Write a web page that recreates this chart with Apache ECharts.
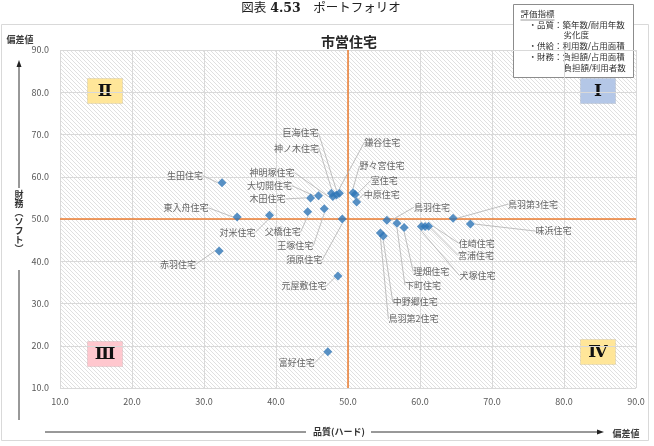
<!DOCTYPE html>
<html>
<head>
<meta charset="utf-8">
<script src="https://cdn.jsdelivr.net/npm/echarts@6/dist/echarts.min.js"></script>
<style>
  html, body { margin: 0; padding: 0; background: #fff; }
  #chart { width: 654px; height: 446px; }
</style>
</head>
<body>
<div id="chart"></div>
<script>
// 住宅ごとの偏差値（品質 = x, 財務 = y）
const names = [
  '巨海住宅', '神ノ木住宅', '鎌谷住宅', '野々宮住宅', '室住宅', '中原住宅',
  '神明塚住宅', '大切開住宅', '木田住宅', '生田住宅', '東入舟住宅', '対米住宅',
  '父橋住宅', '王塚住宅', '須原住宅', '元屋敷住宅', '富好住宅', '赤羽住宅',
  '鳥羽住宅', '鳥羽第3住宅', '味浜住宅', '住崎住宅', '宮浦住宅', '犬塚住宅',
  '理畑住宅', '下町住宅', '中野郷住宅', '鳥羽第2住宅'
];
const hardValues = [
  48.4, 47.7, 48.8, 50.7, 51.0, 51.2,
  47.9, 45.9, 44.8, 32.5, 34.6, 39.1,
  44.4, 46.7, 49.2, 48.6, 47.2, 32.1,
  55.4, 64.6, 67.0, 61.2, 60.7, 60.2,
  57.8, 56.8, 54.9, 54.5
];
const softValues = [
  55.7, 56.1, 56.1, 56.2, 55.8, 54.0,
  55.3, 55.5, 55.0, 58.6, 50.5, 50.9,
  51.7, 52.4, 50.0, 36.5, 18.6, 42.4,
  49.7, 50.2, 48.8, 48.3, 48.2, 48.2,
  48.0, 49.0, 46.0, 46.7
];
const tickValues = [10, 20, 30, 40, 50, 60, 70, 80, 90];
const centerValue = 50;

// ラベルの引き出し位置（点からのずれ, px）
const labelOffsets = {
  '巨海住宅': [-36, -62], '神ノ木住宅': [-35, -45], '鎌谷住宅': [43, -51],
  '野々宮住宅': [29, -27], '室住宅': [29, -14], '中原住宅': [25, -8],
  '神明塚住宅': [-61, -24], '大切開住宅': [-49, -10], '木田住宅': [-43, 1],
  '生田住宅': [-37, -7], '東入舟住宅': [-51, -9], '対米住宅': [-32, 17],
  '父橋住宅': [-25, 20], '王塚住宅': [-29, 37], '須原住宅': [-38, 41],
  '元屋敷住宅': [-34, 10], '富好住宅': [-31, 11], '赤羽住宅': [-41, 13],
  '鳥羽住宅': [45, -13], '鳥羽第3住宅': [80, -14], '味浜住宅': [83, 7],
  '住崎住宅': [48, 17], '宮浦住宅': [51, 29], '犬塚住宅': [56, 49],
  '理畑住宅': [27, 44], '下町住宅': [26, 62], '中野郷住宅': [32, 66],
  '鳥羽第2住宅': [33, 86]
};

const JP = '"Noto Sans CJK JP", "Noto Sans", sans-serif';
const SERIF = '"DejaVu Serif", "Liberation Serif", "Noto Sans CJK JP", serif';
const ORANGE = '#ed7d31';
const axisMin = tickValues[0];
const axisMax = tickValues[tickValues.length - 1];

// 斜線の背景
const hatch = document.createElement('canvas');
hatch.width = 4;
hatch.height = 4;
const hctx = hatch.getContext('2d');
hctx.strokeStyle = '#e0e0e0';
hctx.lineWidth = 1;
hctx.beginPath();
hctx.moveTo(0, 0); hctx.lineTo(4, 4);
hctx.moveTo(-1, 3); hctx.lineTo(1, 5);
hctx.moveTo(3, -1); hctx.lineTo(5, 1);
hctx.stroke();

const points = names.map((n, i) => ({ name: n, value: [hardValues[i], softValues[i]] }));

function quadBox(x, y, fill, text) {
  return {
    type: 'group', left: x, top: y, silent: true,
    children: [
      { type: 'rect', shape: { x: 0, y: 0, width: 35, height: 25 },
        style: { fill: fill, stroke: 'rgba(0,0,0,0.08)' } },
      { type: 'text', x: 17.5, y: 13,
        style: { text: text, font: 'bold 17px ' + SERIF, fill: '#111',
                 align: 'center', verticalAlign: 'middle' } }
    ]
  };
}

function legendLine(x, y, text) {
  return { type: 'text', x: x, y: y,
    style: { text: text, font: '8.5px ' + SERIF, fill: '#333', verticalAlign: 'middle' } };
}

const chart = echarts.init(document.getElementById('chart'));
chart.setOption({
  animation: false,
  backgroundColor: '#fff',
  grid: {
    left: 60, right: 18, top: 50, bottom: 58,
    show: true, borderWidth: 0,
    backgroundColor: { image: hatch, repeat: 'repeat' }
  },
  xAxis: {
    type: 'value', min: axisMin, max: axisMax, interval: 10,
    axisLine: { show: false }, axisTick: { show: false },
    splitLine: { lineStyle: { color: '#d9d9d9', width: 1 } },
    axisLabel: { formatter: v => v.toFixed(1), fontSize: 9, color: '#595959', margin: 9, fontFamily: JP }
  },
  yAxis: {
    type: 'value', min: axisMin, max: axisMax, interval: 10,
    axisLine: { show: false }, axisTick: { show: false },
    splitLine: { lineStyle: { color: '#d9d9d9', width: 1 } },
    axisLabel: { formatter: v => v.toFixed(1), fontSize: 9, color: '#595959', margin: 11, fontFamily: JP }
  },
  series: [{
    type: 'scatter',
    symbol: 'diamond',
    symbolSize: 9,
    itemStyle: { color: '#2e75b6' },
    data: points,
    label: {
      show: true, position: 'inside', formatter: '{b}',
      fontSize: 9, color: '#404040', fontFamily: JP
    },
    labelLine: { show: true, lineStyle: { color: '#b0b0b0', width: 0.8 } },
    labelLayout: p => {
      const o = labelOffsets[names[p.dataIndex]];
      return { dx: o[0], dy: o[1] };
    },
    emphasis: { disabled: true },
    markLine: {
      silent: true, symbol: 'none', animation: false,
      label: { show: false },
      lineStyle: { color: ORANGE, width: 1.5, type: 'solid', opacity: 1 },
      emphasis: { disabled: true },
      data: [
        [{ coord: [centerValue, axisMin] }, { coord: [centerValue, axisMax] }],
        [{ coord: [axisMin, centerValue] }, { coord: [axisMax, centerValue] }]
      ]
    },
    z: 5
  }],
  graphic: [
    // 外枠
    { type: 'rect', shape: { x: 1.5, y: 24.5, width: 647, height: 416 },
      style: { fill: null, stroke: '#d9d9d9', lineWidth: 1 }, silent: true, z: -1 },
    // 図表タイトル
    { type: 'text', x: 321, y: 9,
      style: { text: '図表 {b|4.53}　ポートフォリオ', font: '12.5px ' + SERIF, fill: '#222',
               align: 'center', verticalAlign: 'middle',
               rich: { b: { fontWeight: 'bold', fontSize: 12.5, fontFamily: SERIF } } } },
    { type: 'text', x: 349, y: 42,
      style: { text: '市営住宅', font: 'bold 14px ' + JP, fill: '#262626',
               align: 'center', verticalAlign: 'middle' } },
    // 凡例ボックス
    { type: 'group', left: 513, top: 4, z: 20, children: [
      { type: 'rect', shape: { x: 0, y: 0, width: 120, height: 73 },
        style: { fill: '#fff', stroke: '#8c8c8c', lineWidth: 1 } },
      legendLine(7, 10, '評価指標'),
      { type: 'line', shape: { x1: 7, y1: 15.5, x2: 41, y2: 15.5 }, style: { stroke: '#555', lineWidth: 0.6 } },
      legendLine(15, 21, '・品質：築年数/耐用年数'),
      legendLine(50, 31, '劣化度'),
      legendLine(15, 42, '・供給：利用数/占用面積'),
      legendLine(15, 53, '・財務：負担額/占用面積'),
      legendLine(50, 64, '負担額/利用者数')
    ] },
    // 象限ラベル
    quadBox(87, 78, '#ffe699', 'Ⅱ'),
    quadBox(580, 78, '#b4c7e7', 'Ⅰ'),
    quadBox(87, 341, '#ffc7ce', 'Ⅲ'),
    quadBox(580, 339, '#ffe699', 'Ⅳ'),
    // 縦軸の矢印と名前
    { type: 'text', x: 20, y: 40,
      style: { text: '偏差値', font: 'bold 9px ' + JP, fill: '#404040', align: 'center', verticalAlign: 'middle' } },
    { type: 'line', shape: { x1: 19, y1: 66, x2: 19, y2: 188 }, style: { stroke: '#333', lineWidth: 1 } },
    { type: 'polygon', shape: { points: [[19, 60], [16.5, 67], [21.5, 67]] }, style: { fill: '#222' } },
    { type: 'text', x: 19, y: 222,
      style: { text: '財\n務\n︵\nソ\nフ\nト\n︶', font: 'bold 9px ' + JP, lineHeight: 9, fill: '#333',
               align: 'center', verticalAlign: 'middle' } },
    { type: 'line', shape: { x1: 19, y1: 270, x2: 19, y2: 420 }, style: { stroke: '#333', lineWidth: 1 } },
    // 横軸の矢印と名前
    { type: 'line', shape: { x1: 45, y1: 432, x2: 306, y2: 432 }, style: { stroke: '#333', lineWidth: 1 } },
    { type: 'text', x: 339, y: 432,
      style: { text: '品質(ハード)', font: 'bold 9px ' + JP, fill: '#333', align: 'center', verticalAlign: 'middle' } },
    { type: 'line', shape: { x1: 371, y1: 432, x2: 597, y2: 432 }, style: { stroke: '#333', lineWidth: 1 } },
    { type: 'polygon', shape: { points: [[604, 432], [597, 429.5], [597, 434.5]] }, style: { fill: '#222' } },
    { type: 'text', x: 626, y: 434,
      style: { text: '偏差値', font: 'bold 9px ' + JP, fill: '#404040', align: 'center', verticalAlign: 'middle' } }
  ]
});
</script>
</body>
</html>
